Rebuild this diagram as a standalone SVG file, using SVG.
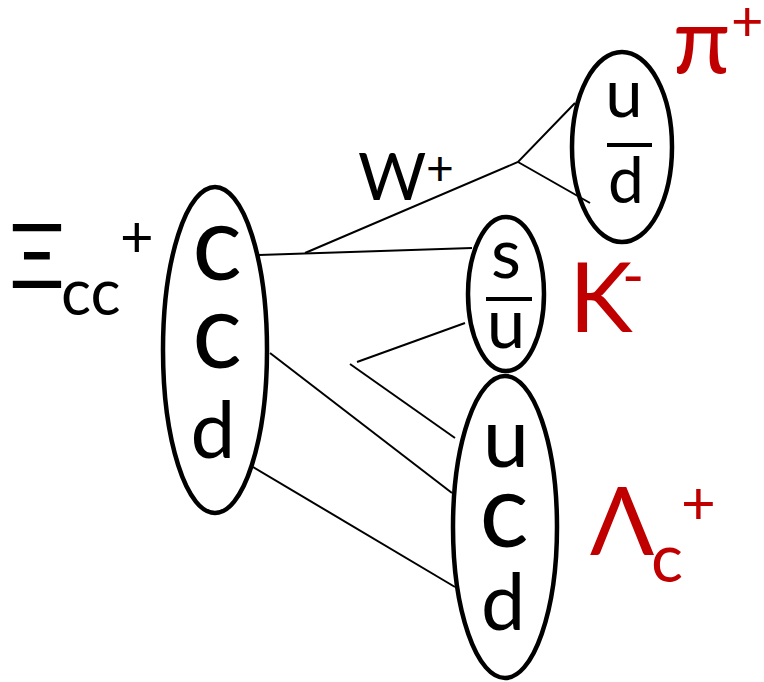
<svg xmlns="http://www.w3.org/2000/svg" width="764" height="682" viewBox="0 0 764 682">
<style>
.ell{fill:none;stroke:#000;stroke-width:4.5}
.q{font-family:Lato,"Open Sans",sans-serif;fill:#000;text-anchor:middle}
.lab{font-family:Lato,"Open Sans",sans-serif}
.red{fill:#C00000}
.blk{fill:#000}
.ln{stroke:#000;stroke-width:2;fill:none}
.bar{stroke:#000;stroke-width:4}
</style>
<rect width="764" height="682" fill="#fff"/>
<g id="connectors">
<line class="ln" x1="259" y1="255" x2="472" y2="248"/>
<polyline class="ln" points="305,253 518,162 575,103"/>
<line class="ln" x1="518" y1="162" x2="590" y2="203"/>
<line class="ln" x1="465" y1="323" x2="357" y2="362"/>
<line class="ln" x1="350" y1="364" x2="455" y2="438"/>
<line class="ln" x1="270" y1="353" x2="452" y2="493"/>
<line class="ln" x1="253" y1="467" x2="455" y2="587"/>
</g>
<g id="xicc">
<ellipse class="ell" cx="215" cy="350" rx="52" ry="163"/>
<text class="q" x="217" y="280" font-size="104">c</text>
<text class="q" x="217" y="368" font-size="104">c</text>
<text class="q" x="213" y="458" font-size="80">d</text>
<text class="lab blk" x="9" y="288" font-size="90">Ξ</text>
<text class="lab blk" x="61" y="315" font-size="63">cc</text>
<text class="lab blk" x="120" y="257" font-size="58">+</text>
</g>
<g id="pion">
<ellipse class="ell" cx="622" cy="147" rx="50" ry="95"/>
<text class="q" x="624" y="117" font-size="67">u</text>
<line class="bar" x1="607" y1="145" x2="652" y2="145"/>
<text class="q" x="626" y="203" font-size="64">d</text>
<text class="lab red" x="673" y="73" font-size="93">π</text>
<text class="lab red" x="731" y="41" font-size="56">+</text>
</g>
<g id="kaon">
<ellipse class="ell" cx="506" cy="294" rx="38" ry="77"/>
<text class="q" x="506" y="278" font-size="69">s</text>
<line class="bar" x1="486" y1="299" x2="532" y2="299"/>
<text class="q" x="506" y="348" font-size="69">u</text>
<text class="lab red" x="569" y="332" font-size="96">K</text>
<text class="lab red" x="622" y="297" font-size="60">-</text>
</g>
<g id="lambdac">
<ellipse class="ell" cx="505" cy="527" rx="52" ry="151"/>
<text class="q" x="506" y="467" font-size="83">u</text>
<text class="q" x="504" y="547" font-size="103">c</text>
<text class="q" x="503" y="630" font-size="79">d</text>
<text class="lab red" x="590" y="555" font-size="95">Λ</text>
<text class="lab red" x="651" y="582" font-size="67">c</text>
<text class="lab red" x="681" y="524" font-size="60">+</text>
</g>
<g id="wlabel">
<text class="lab blk" x="358" y="200" font-size="66">W</text>
<text class="lab blk" x="426" y="185" font-size="48">+</text>
</g>
</svg>
